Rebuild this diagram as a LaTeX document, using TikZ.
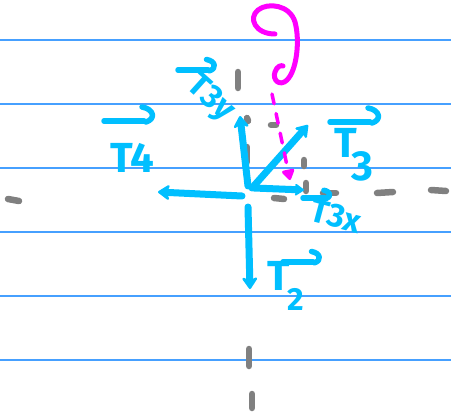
\documentclass[tikz,border=0pt]{standalone}
\usepackage{fontspec}
\setmainfont{Fira Sans}
\usetikzlibrary{arrows.meta}
\definecolor{ruled}{RGB}{70,160,255}
\definecolor{vecblue}{RGB}{0,191,255}
\definecolor{pencil}{RGB}{128,128,128}
\definecolor{mag}{RGB}{255,0,255}
\begin{document}
\begin{tikzpicture}[x=1pt,y=-1pt,
  rule/.style={ruled,line width=1.4pt},
  axisdash/.style={pencil,line width=6.5pt,line cap=round},
  vec/.style={vecblue,line width=7pt,line cap=round,line join=round,-{Stealth[length=14pt,width=19pt,round]}},
  smallvec/.style={vec,-{Stealth[length=11pt,width=15pt,round]}},
  lbl/.style={vecblue,font=\fontsize{42}{42}\selectfont\bfseries,inner sep=0pt},
  sublbl/.style={vecblue,font=\fontsize{33}{33}\selectfont\bfseries,inner sep=0pt},
  harp/.style={vecblue,line width=5.5pt,line cap=round,line join=round},
  overvec/.pic={\draw[harp] (-20,0) -- (20,0);
                \draw[harp] (18,-14) .. controls (30,-12) and (32,-2) .. (22,1);},
  magline/.style={mag,line width=5pt,line cap=round,line join=round}
]
\fill[white] (0,0) rectangle (451,418);
\useasboundingbox (0,0) rectangle (451,418);

% ruled paper lines
\foreach \yy in {40,104,168,232,296,360}
  \draw[rule] (0,\yy) -- (451,\yy);

% gray dashed axes
\foreach \xa/\ya/\xb/\yb in {238/72/238/88, 247/118/248/121, 247/147/247/162,
  249/349/249/366, 252/394/252/408,
  8/199/19/201, 274/198/284/199, 323/193/336/193, 377/193/393/192, 431/190/446/191,
  271/125/276/125, 304/160/304/166, 306/183/306/191}
  \draw[axisdash] (\xa,\ya) -- (\xb,\yb);

% blue force vectors
\coordinate (O) at (247,192);
\coordinate (e3y) at (240,116);
\coordinate (e4) at (158,192);
\coordinate (e2) at (250,289);
\coordinate (e3) at (308,125);
\coordinate (e3x) at (304,190);
\coordinate (s3y) at (248,186);
\coordinate (s4) at (242,196);
\coordinate (s2) at (248,207);
\coordinate (s3) at (252,188);
\coordinate (s3x) at (254,188);
\draw[vec] (s3y) -- (e3y);
\draw[vec] (s4) -- (e4);
\draw[vec] (s2) -- (e2);
\draw[vec] (s3) -- (e3);
\draw[smallvec] (s3x) -- (e3x);

% magenta g
\draw[magline] (275,34) .. controls (255,34) and (248,18) .. (258,10)
  .. controls (268,2) and (290,5) .. (295,22)
  .. controls (300,40) and (297,70) .. (287,80)
  .. controls (280,87) and (272,80) .. (275,72)
  .. controls (277,66) and (281,65) .. (283,66);
\coordinate (gs) at (272,94);
\coordinate (ge) at (290,180);
\draw[mag,line width=3.5pt,line cap=round,dash pattern=on 10pt off 10pt,
  -{Triangle[length=12pt,width=14pt,round]}] (gs) -- (ge);

% labels
\node[lbl,anchor=base west] (t4) at (110,172) {T4};
\pic[scale=1] at (124,121) {overvec};

\node[lbl,anchor=base west] (t3) at (334,157) {T\kern-5pt\raisebox{-23pt}{3}};
\pic[scale=1] at (350,122) {overvec};

\node[lbl,anchor=base west] (t2) at (267,290) {T\kern-2pt\raisebox{-20pt}{\fontsize{32}{32}\selectfont 2}};
\pic[scale=0.75] at (298,262) {overvec};

\node[sublbl,rotate=-15] (t3x) at (336,216) {T3x};
\pic[scale=0.55] at (314,198) {overvec};

\node[sublbl,rotate=-42] (t3y) at (210,99) {T3y};
\pic[scale=0.75] at (193,70) {overvec};
\end{tikzpicture}
\end{document}
